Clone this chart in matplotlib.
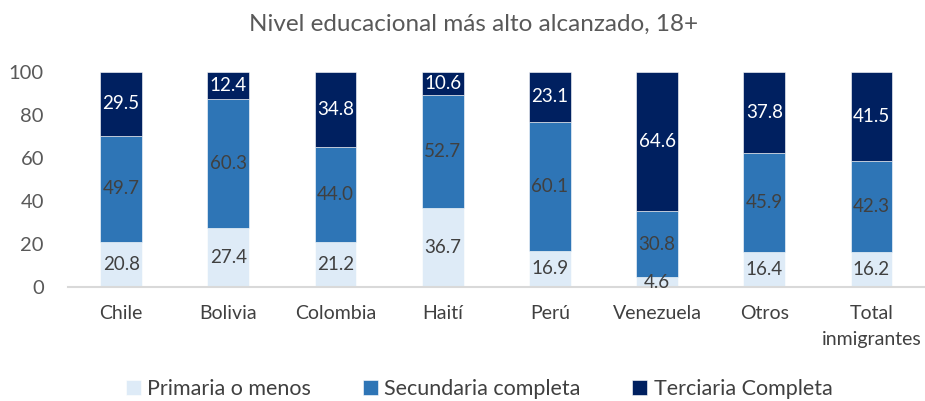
import numpy as np
import matplotlib
matplotlib.use("Agg")
import matplotlib.pyplot as plt

plt.rcParams['font.family'] = ['Lato', 'DejaVu Sans']

categories = ['Chile', 'Bolivia', 'Colombia', 'Haití', 'Perú',
              'Venezuela', 'Otros', 'Total\ninmigrantes']
primaria = [20.8, 27.4, 21.2, 36.7, 16.9, 4.6, 16.4, 16.2]
secundaria = [49.7, 60.3, 44.0, 52.7, 60.1, 30.8, 45.9, 42.3]
terciaria = [29.5, 12.4, 34.8, 10.6, 23.1, 64.6, 37.8, 41.5]

series = [
    ('Primaria o menos', primaria, '#DEEBF7', '#404040'),
    ('Secundaria completa', secundaria, '#2E75B6', '#404040'),
    ('Terciaria Completa', terciaria, '#002060', 'white'),
]

fig = plt.figure(figsize=(9.25, 4.01), dpi=100)
ax = fig.add_axes([0.073, 0.284, 0.927, 0.536])

x = np.arange(len(categories))
bottom = np.zeros(len(categories))
for name, vals, color, tcolor in series:
    vals = np.array(vals)
    ax.bar(x, vals, 0.39, bottom=bottom, color=color, label=name,
           edgecolor='white', linewidth=0.4)
    for xi, b, v in zip(x, bottom, vals):
        ax.text(xi, b + v / 2, f'{v:.1f}', ha='center', va='center',
                fontsize=13.5, color=tcolor)
    bottom += vals

ax.set_xlim(-0.5, len(categories) - 0.5)
ax.set_ylim(0, 100)
ax.set_yticks(range(0, 101, 20))
ax.set_xticks(x)
ax.set_xticklabels(categories, linespacing=1.6)
ax.tick_params(axis='y', length=0, labelsize=14.5, colors='#595959', pad=17)
ax.tick_params(axis='x', length=0, labelsize=14, colors='#404040', pad=13)
for s in ['top', 'right', 'left']:
    ax.spines[s].set_visible(False)
ax.spines['bottom'].set_color('#D9D9D9')
ax.spines['bottom'].set_linewidth(1.5)

fig.text(0.512, 0.94, 'Nivel educacional más alto alcanzado, 18+',
         ha='center', va='center', fontsize=17.5, color='#595959')

fig.legend(loc='center', bbox_to_anchor=(0.518, 0.03), ncol=3, frameon=False,
           fontsize=15.5, handlelength=0.7, handleheight=0.7,
           handletextpad=0.3, columnspacing=2.4, labelcolor='#404040')

fig.savefig('out.png', dpi=100)
